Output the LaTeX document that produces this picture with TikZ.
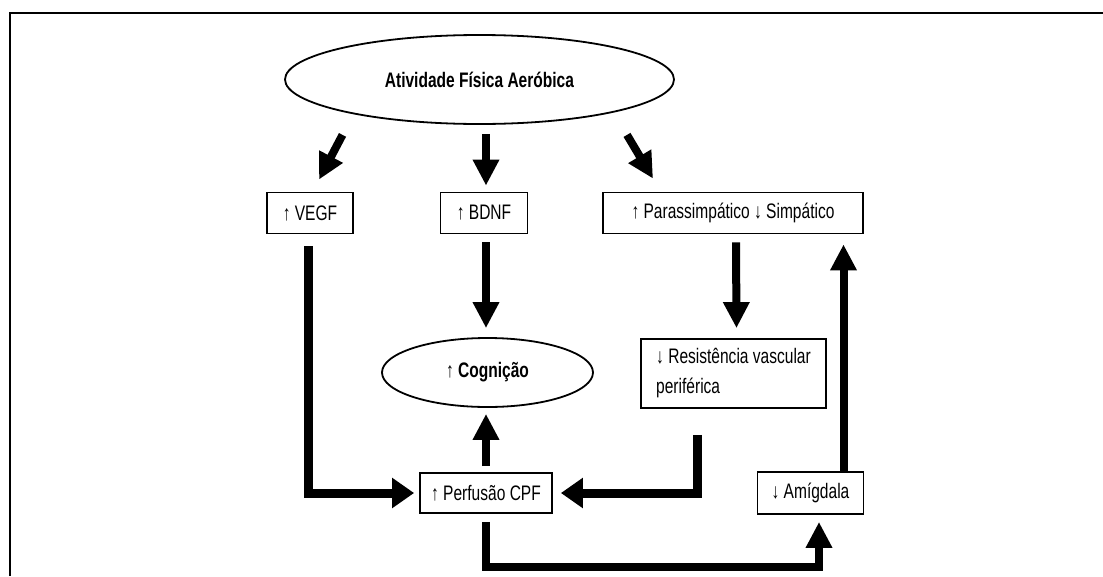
\documentclass[tikz,border=0pt]{standalone}
\usepackage{fontspec}
\setmainfont[FakeStretch=0.74]{Liberation Sans}
\usetikzlibrary{shapes.geometric,arrows.meta,calc}

\begin{document}
\begin{tikzpicture}[x=1pt,y=-1pt,
    caixa/.style={draw, line width=1.8pt, inner sep=0pt, minimum height=41pt, font=\fontsize{21}{30}\selectfont},
    elipse/.style={ellipse, draw, line width=1.8pt, inner sep=0pt, font=\fontsize{21}{24}\selectfont},
    seta/.style={line width=8pt, -{Triangle[length=26pt,width=25pt]}},
    setah/.style={line width=9pt, -{Triangle[length=22pt,width=29pt]}}]
  \useasboundingbox (0,0) rectangle (1103,576);
  % Moldura
  \draw[line width=2pt] (10,576) -- (10,12.5) -- (1103,12.5);
  % Nos
  \node[elipse, minimum width=389pt, minimum height=89pt] (afa) at (479.5,79.5) {\textbf{Atividade Física Aeróbica}};
  \node[caixa, minimum width=86pt] (vegf) at (310,213) {↑ VEGF};
  \node[caixa, minimum width=87pt] (bdnf) at (484,213) {↑ BDNF};
  \node[caixa, minimum width=260pt] (para) at (733,213) {↑ Parassimpático ↓ Simpático};
  \node[elipse, minimum width=211pt, minimum height=69pt] (cog) at (487.5,372.5) {↑ \textbf{Cognição}};
  \node[caixa, minimum width=185pt, minimum height=69pt, align=left] (resist) at (733.5,373.5) {↓ Resistência vascular\\periférica};
  \node[caixa, minimum width=132pt, minimum height=40pt] (perf) at (486,493) {↑ Perfusão CPF};
  \node[caixa, minimum width=106pt, minimum height=42pt] (amig) at (810.5,493) {↓ Amígdala};
  % Setas
  \draw[seta] ($(afa.south)+(-137,10)$) -- ($(vegf.north)+(9,-12)$);
  \draw[seta] ($(afa.south -| bdnf.north)+(2,9)$) -- ($(bdnf.north)+(2,-6)$);
  \draw[seta] ($(afa.south)+(147.5,10)$) -- ($(para.north)+(-80,-13)$);
  \draw[setah] ($(vegf.south)+(-2,12)$) |- ($(perf.west)+(-5,0)$);
  \draw[seta] ($(bdnf.south)+(2,8)$) -- ($(bdnf.south |- cog.north)+(2,-9)$);
  \draw[seta] ($(para.south)+(3,8)$) -- ($(resist.north)+(3,-10)$);
  \draw[setah] ($(resist.south)+(-36,26)$) |- ($(perf.east)+(8,0)$);
  \draw[seta] ($(perf.north)+(0,-6)$) -- ($(perf.north |- cog.south)+(0,6)$);
  \draw[seta] ($(perf.south)+(0,8)$) -- ++(0,45) -| ($(amig.south)+(8.5,7)$);
  \draw[seta] ($(amig.north)+(33,0)$) -- ($(para.south -| amig.north)+(33,10)$);
\end{tikzpicture}
\end{document}
